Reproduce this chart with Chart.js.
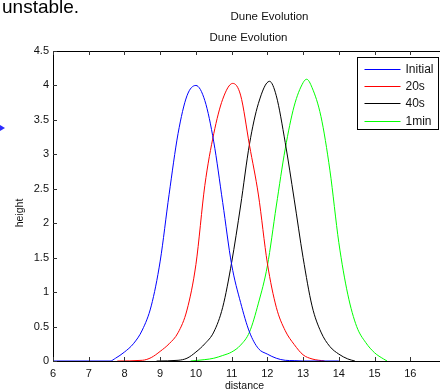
<!DOCTYPE html>
<html><head><meta charset="utf-8">
<script src="https://cdn.jsdelivr.net/npm/chart.js@4/dist/chart.umd.min.js"></script>
<style>
html,body{margin:0;padding:0;background:#fff;overflow:hidden;width:440px;height:392px;}
#wrap{position:relative;width:440px;height:392px;overflow:hidden;}
#doc{position:absolute;left:2px;top:-4px;font:19px "Liberation Sans",Arial,sans-serif;color:#000;}
#arrow{position:absolute;left:0;top:125px;width:0;height:0;border-top:3px solid transparent;border-bottom:3px solid transparent;border-left:5px solid #2a2aff;}
canvas{position:absolute;left:0;top:0;}
</style></head><body>
<div id="wrap"><canvas id="c" width="447" height="392"></canvas><div id="doc">unstable.</div><div id="arrow"></div></div>
<script>
// ---- data ----
const chartTitle = "Dune Evolution";
const xLabel = "distance";
const yLabel = "height";
const seriesNames = ["Initial", "20s", "40s", "1min"];

const initialX = [6, 7.6, 7.75, 8, 8.25, 8.5, 8.75, 9, 9.25, 9.5, 9.75, 10, 10.25, 10.5, 10.75, 11, 11.25, 11.5, 11.75, 12, 12.25, 12.5, 12.75, 13, 14];
const initialY = [0, 0, 0.04, 0.13, 0.25, 0.45, 0.8, 1.45, 2.42, 3.3, 3.85, 4.0, 3.78, 3.18, 2.3, 1.4, 0.85, 0.42, 0.18, 0.1, 0.04, 0.01, 0.005, 0, 0];

const s20X = [7.8, 8.5, 8.75, 9, 9.25, 9.5, 9.75, 10, 10.25, 10.5, 10.75, 11.03, 11.25, 11.5, 11.75, 12, 12.25, 12.5, 12.75, 13, 13.25, 13.6];
const s20Y = [0, 0.01, 0.05, 0.14, 0.25, 0.41, 0.74, 1.4, 2.55, 3.3, 3.8, 4.03, 3.86, 3.13, 2.41, 1.42, 0.78, 0.44, 0.24, 0.09, 0.03, 0];

const s40X = [8.9, 9.5, 9.75, 10, 10.25, 10.5, 10.75, 11, 11.25, 11.5, 11.75, 12.06, 12.25, 12.5, 12.75, 13, 13.25, 13.5, 13.75, 14, 14.25, 14.45];
const s40Y = [0, 0.01, 0.04, 0.13, 0.25, 0.42, 0.78, 1.43, 2.25, 3.15, 3.74, 4.06, 3.85, 3.17, 2.35, 1.5, 0.8, 0.42, 0.21, 0.1, 0.03, 0];

const s1mX = [9.85, 10.25, 10.5, 10.75, 11, 11.25, 11.5, 11.75, 12, 12.25, 12.5, 12.75, 13, 13.1, 13.25, 13.5, 13.75, 14, 14.25, 14.5, 14.75, 15, 15.25, 15.35];
const s1mY = [0, 0.02, 0.04, 0.08, 0.13, 0.23, 0.42, 0.84, 1.38, 2.25, 3.08, 3.7, 4.04, 4.09, 3.97, 3.55, 2.77, 1.72, 0.97, 0.5, 0.27, 0.12, 0.03, 0];

const xTicks = [6, 7, 8, 9, 10, 11, 12, 13, 14, 15, 16];
const yTicks = [0, 0.5, 1, 1.5, 2, 2.5, 3, 3.5, 4, 4.5];

// ---- build ----
const pts = (xs, ys) => xs.map((v, i) => ({x: v, y: ys[i]}));
const colors = ["#0000ff", "#ff0000", "#000000", "#00ff00"];
const seriesData = [pts(initialX, initialY), pts(s20X, s20Y), pts(s40X, s40Y), pts(s1mX, s1mY)];

const FONT = '"Liberation Sans", Arial, sans-serif';

const deco = {
  id: 'deco',
  afterDraw(chart) {
    const {ctx, chartArea: a, scales: {x, y}} = chart;
    ctx.save();
    ctx.strokeStyle = '#000';
    ctx.lineWidth = 1;
    ctx.beginPath();
    ctx.moveTo(a.left + 0.5, a.bottom + 0.5);
    ctx.lineTo(a.left + 0.5, a.top + 0.5);
    ctx.lineTo(a.right, a.top + 0.5);
    ctx.moveTo(a.left, a.bottom + 0.5);
    ctx.lineTo(a.right, a.bottom + 0.5);
    ctx.stroke();
    // inward ticks
    ctx.strokeStyle = '#333';
    ctx.beginPath();
    xTicks.forEach(v => {
      const px = Math.round(x.getPixelForValue(v)) + 0.5;
      ctx.moveTo(px, a.bottom); ctx.lineTo(px, a.bottom - 4);
      ctx.moveTo(px, a.top); ctx.lineTo(px, a.top + 4);
    });
    yTicks.forEach(v => {
      const py = Math.round(y.getPixelForValue(v)) + 0.5;
      ctx.moveTo(a.left, py); ctx.lineTo(a.left + 4, py);
    });
    ctx.stroke();

    // titles
    const cx = (a.left + a.right) / 2;
    ctx.fillStyle = '#111';
    ctx.font = '11.5px ' + FONT;
    ctx.textAlign = 'center';
    ctx.textBaseline = 'middle';
    ctx.fillText(chartTitle, cx + 20, a.top - 34);
    ctx.fillText(chartTitle, cx - 1, a.top - 13);
    // axis labels
    ctx.font = '10.5px ' + FONT;
    ctx.fillText(xLabel, cx - 5, a.bottom + 25);
    ctx.save();
    ctx.translate(20, (a.top + a.bottom) / 2 + 7);
    ctx.rotate(-Math.PI / 2);
    ctx.fillText(yLabel, 0, 0);
    ctx.restore();

    // legend
    const bw = 81, bh = 72;
    const bx = a.right - 89 + 0.5, by = a.top + 6 + 0.5;
    ctx.fillStyle = '#fff';
    ctx.fillRect(bx, by, bw, bh);
    ctx.strokeStyle = '#000';
    ctx.strokeRect(bx, by, bw, bh);
    ctx.font = '12px ' + FONT;
    ctx.textAlign = 'left';
    seriesNames.forEach((name, i) => {
      const ly = Math.round(by + 11.5 + i * 17.2) + 0.5;
      ctx.beginPath();
      ctx.strokeStyle = colors[i];
      ctx.moveTo(bx + 7, ly); ctx.lineTo(bx + 43, ly);
      ctx.stroke();
      ctx.fillStyle = '#111';
      ctx.fillText(name, bx + 48, ly + 0.5);
    });
    ctx.restore();
  }
};

new Chart(document.getElementById('c'), {
  type: 'line',
  data: {
    datasets: seriesNames.map((n, i) => ({
      label: n,
      data: seriesData[i],
      borderColor: colors[i],
      backgroundColor: colors[i],
      borderWidth: 1,
      pointRadius: 0,
      cubicInterpolationMode: 'monotone',
      fill: false,
      clip: 3
    }))
  },
  options: {
    responsive: false,
    animation: false,
    events: [],
    layout: {padding: {top: 51, left: 0, right: 1, bottom: 0}},
    plugins: {legend: {display: false}, title: {display: false}, tooltip: {enabled: false}},
    scales: {
      x: {
        type: 'linear', min: 6, max: 17,
        afterBuildTicks: s => { s.ticks = xTicks.map(v => ({value: v})); },
        afterFit: s => { s.height = 31; },
        grid: {display: false, drawTicks: false},
        border: {display: false},
        ticks: {padding: 6, color: '#111', font: {family: FONT, size: 11}, maxRotation: 0, autoSkip: false,
                callback: v => String(v)}
      },
      y: {
        type: 'linear', min: 0, max: 4.5,
        afterBuildTicks: s => { s.ticks = yTicks.map(v => ({value: v})); },
        afterFit: s => { s.width = 53; },
        grid: {display: false, drawTicks: false},
        border: {display: false},
        ticks: {padding: 4, color: '#111', font: {family: FONT, size: 11}, callback: v => String(v)}
      }
    }
  },
  plugins: [deco]
});
</script>
</body></html>
